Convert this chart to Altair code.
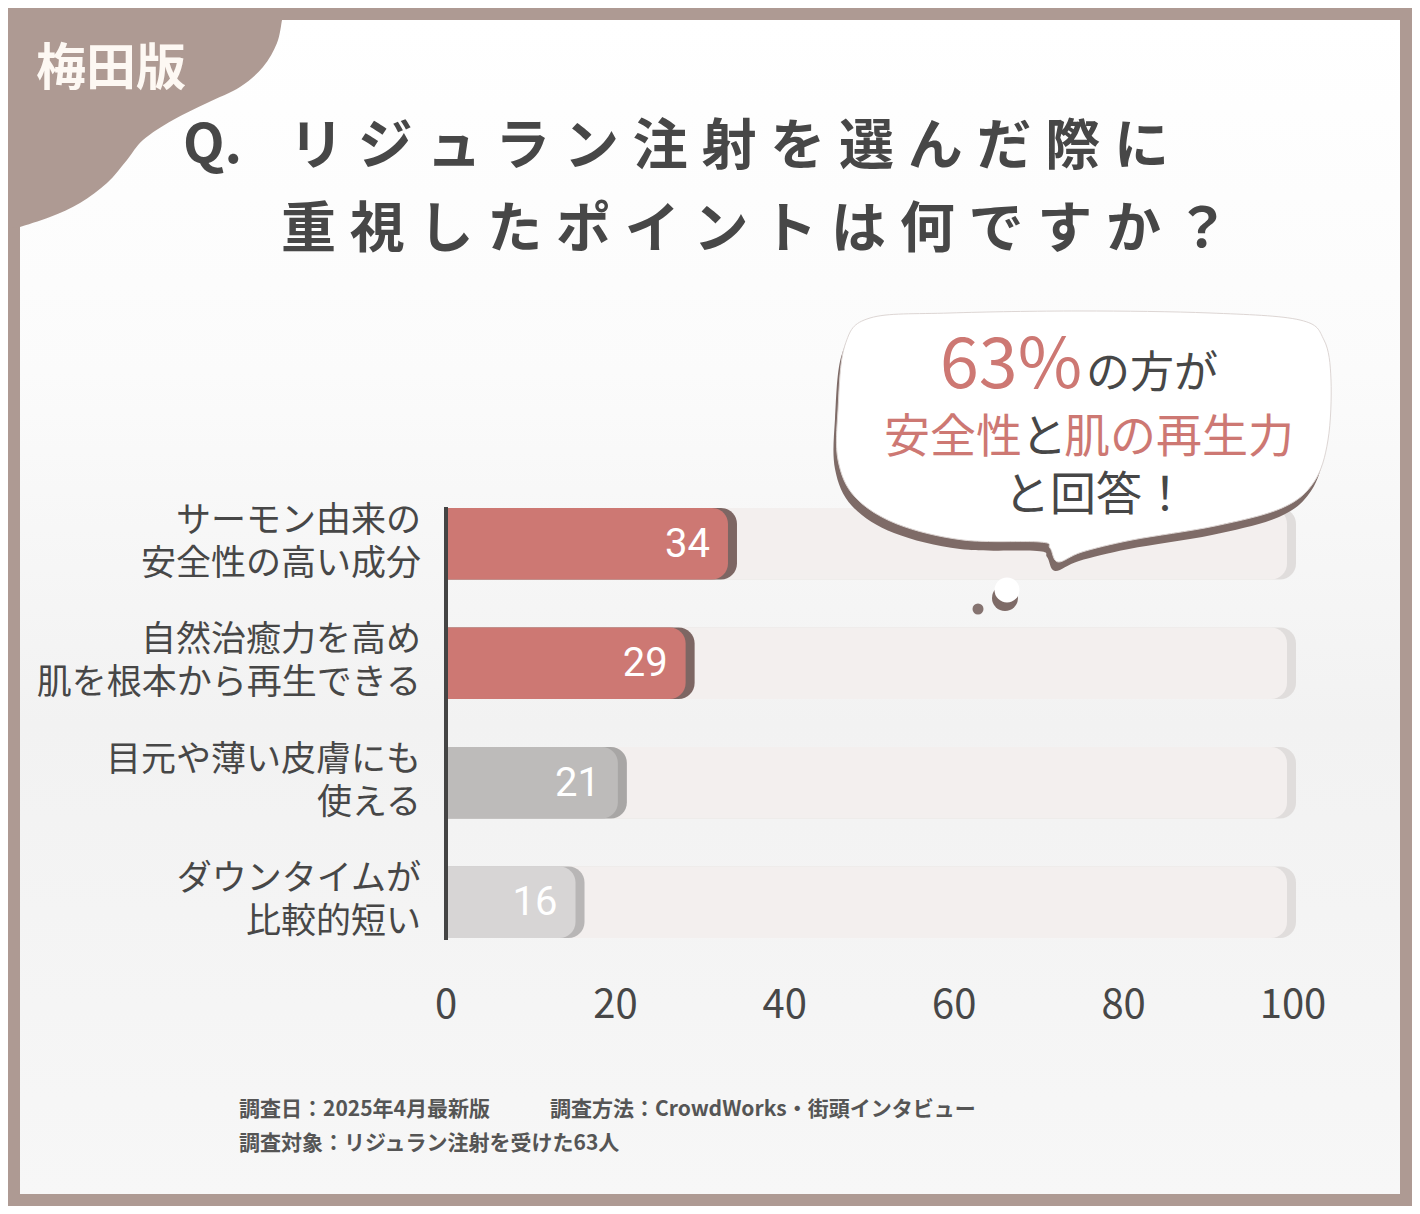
import altair as alt
import pandas as pd

# ---------------- data ----------------
categories = [
    "サーモン由来の\n安全性の高い成分",
    "自然治癒力を高め\n肌を根本から再生できる",
    "目元や薄い皮膚にも\n使える",
    "ダウンタイムが\n比較的短い",
]
values = [34, 29, 21, 16]
full_scale = [100, 100, 100, 100]
ticks = [0, 20, 40, 60, 80, 100]
badge = "梅田版"
title_line1 = ["Q.", "リジュラン注射を選んだ際に"]
title_line2 = "重視したポイントは何ですか？"
bubble_line1 = ["63%", "の方が"]
bubble_line2 = ["安全性", "と", "肌の再生力"]
bubble_line3 = "と回答！"
footer = [
    "調査日：2025年4月最新版",
    "調査方法：CrowdWorks・街頭インタビュー",
    "調査対象：リジュラン注射を受けた63人",
]

# ---------------- styles ----------------
FONT = "Noto Sans CJK JP"
DARK = "#474747"
RED = "#cd7873"
BROWN = "#ae9a93"
bar_fill = ["#cd7873", "#cd7873", "#bdbbba", "#d7d5d5"]
bar_shadow = ["#7d6663", "#7d6663", "#a8a6a5", "#b8b6b6"]

OFF = 8  # page margin: reference px -> chart px


def catmull(points, closed=False):
    pts = list(points)
    n = len(pts)
    segs = []
    rng = range(n) if closed else range(n - 1)
    for i in rng:
        p0 = pts[(i - 1) % n] if (closed or i > 0) else pts[i]
        p1 = pts[i % n]
        p2 = pts[(i + 1) % n]
        p3 = pts[(i + 2) % n] if (closed or i + 2 < n) else p2
        c1 = (p1[0] + (p2[0] - p0[0]) / 6, p1[1] + (p2[1] - p0[1]) / 6)
        c2 = (p2[0] - (p3[0] - p1[0]) / 6, p2[1] - (p3[1] - p1[1]) / 6)
        segs.append(("C", [c1, c2, p2]))
    return segs


def to_symbol(cmds, cx, cy, H):
    out = []
    for letter, pts in cmds:
        coords = " ".join(f"{(x - cx) / H:.4f},{(y - cy) / H:.4f}" for x, y in pts)
        out.append(f"{letter}{coords}")
    return " ".join(out) + " Z"


# blob in top-left corner (reference px)
blob_edge = [(282, 20), (277, 43), (263, 67), (240, 87), (207, 103), (173, 120),
             (143, 140), (127, 160), (107, 183), (80, 203), (50, 217), (20, 227)]
blob_cmds = [("M", [(0, 0)]), ("L", [(282, 0)]), ("L", [(282, 20)])]
blob_cmds += catmull(blob_edge)
blob_cmds += [("L", [(0, 229)])]
BCX, BCY, BH = 150, 120, 170
blob_path = to_symbol(blob_cmds, BCX, BCY, BH)

# speech bubble (reference px)
bubble_pts = [(870, 318), (950, 313), (1080, 311), (1210, 313), (1300, 320), (1324, 340),
              (1331, 380), (1328, 440), (1314, 482), (1282, 508), (1215, 526), (1132, 540),
              (1082, 552), (1058, 562), (1050, 548), (1040, 542), (963, 540), (897, 524),
              (855, 497), (838, 460), (838, 410), (845, 345)]
bub_cmds = [("M", [bubble_pts[0]])] + catmull(bubble_pts, closed=True)
UCX, UCY, UH = 1085, 440, 260
bubble_path = to_symbol(bub_cmds, UCX, UCY, UH)

one = pd.DataFrame({"k": [0]})
df = pd.DataFrame({"cat": categories, "value": values, "full": full_scale})
tick_df = pd.DataFrame({"tick": ticks})

xscale = alt.Scale(domain=[0, 100], range=[438, 1285])
yscale = alt.Scale(domain=categories, range=[476, 954], paddingInner=0.4, paddingOuter=0.2)
y_enc = alt.Y("cat:N", scale=yscale, axis=None, sort=categories)

# ---------------- layers ----------------
panel = alt.Chart(one).mark_rect(
    opacity=1,
    color=alt.LinearGradient(
        gradient="linear", x1=0, x2=0, y1=0, y2=1,
        stops=[alt.GradientStop(color="#ffffff", offset=0),
               alt.GradientStop(color="#fbfbfb", offset=0.3),
               alt.GradientStop(color="#f2f2f2", offset=0.6),
               alt.GradientStop(color="#f7f7f7", offset=1)],
    ),
).encode(x=alt.value(20 - OFF), x2=alt.value(1400 - OFF),
         y=alt.value(20 - OFF), y2=alt.value(1194 - OFF))

blob = alt.Chart(one).mark_point(
    shape=blob_path, filled=True, fill=BROWN, strokeWidth=0, opacity=1, size=(2 * BH) ** 2
).encode(x=alt.value(BCX - OFF), y=alt.value(BCY - OFF))

badge_t = alt.Chart(one).mark_text(
    text=badge, font=FONT, fontSize=50, fontWeight="bold", color="#fdf8f3",
    align="left", baseline="middle"
).encode(x=alt.value(36 - OFF), y=alt.value(70 - OFF))

t1a = alt.Chart(one).mark_text(
    text=title_line1[0], font=FONT, fontSize=54, fontWeight="bold", color=DARK,
    align="left", baseline="middle"
).encode(x=alt.value(183 - OFF), y=alt.value(147 - OFF))
t1b = alt.Chart(one).mark_text(
    text="\u2005".join(title_line1[1]), font=FONT, fontSize=55, fontWeight="bold",
    color=DARK, align="left", baseline="middle"
).encode(x=alt.value(289 - OFF), y=alt.value(147 - OFF))
t2 = alt.Chart(one).mark_text(
    text="\u2005".join(title_line2), font=FONT, fontSize=55, fontWeight="bold", color=DARK,
    align="left", baseline="middle"
).encode(x=alt.value(281 - OFF), y=alt.value(230 - OFF))

x_full = alt.X("full:Q", scale=xscale, axis=None)
x_val = alt.X("value:Q", scale=xscale, axis=None)
CR = dict(cornerRadiusTopRight=16, cornerRadiusBottomRight=16)

bg_shadow = alt.Chart(df).mark_bar(
    color="#e0dddc", opacity=1, xOffset=3, **CR
).encode(x=x_full, x2=alt.datum(0), y=y_enc)
bg_bar = alt.Chart(df).mark_bar(
    color="#f3efee", opacity=1, xOffset=-6, **CR
).encode(x=x_full, x2=alt.datum(0), y=y_enc)

sh_bar = alt.Chart(df).mark_bar(
    opacity=1, xOffset=3, **CR
).encode(x=x_val, x2=alt.datum(0), y=y_enc,
         color=alt.Color("cat:N", scale=alt.Scale(domain=categories, range=bar_shadow), legend=None))
main_bar = alt.Chart(df).mark_bar(
    opacity=1, xOffset=-6, **CR
).encode(x=x_val, x2=alt.datum(0), y=y_enc,
         fill=alt.Fill("cat:N", scale=alt.Scale(domain=categories, range=bar_fill), legend=None))

val_text = alt.Chart(df).mark_text(
    font="Roboto", fontSize=40, color="#ffffff", align="right", baseline="middle", dx=-24, dy=1
).encode(x=x_val, y=y_enc, text="value:Q")

axis_line = alt.Chart(one).mark_rule(color="#444444", strokeWidth=4, opacity=1).encode(
    x=alt.X("k:Q", scale=xscale, axis=None), y=alt.value(507 - OFF), y2=alt.value(940 - OFF))

cat_text = alt.Chart(df).mark_text(
    font=FONT, fontSize=35, lineHeight=43, lineBreak="\n", color=DARK,
    align="right", baseline="middle", dy=-23
).encode(x=alt.value(421 - OFF), y=y_enc, text="cat:N")

tick_text = alt.Chart(tick_df).mark_text(
    font=FONT, fontSize=40, fontWeight=400, color=DARK, align="center", baseline="middle"
).encode(x=alt.X("tick:Q", scale=xscale, axis=None), y=alt.value(1006 - OFF), text="tick:Q")

bub_shadow = alt.Chart(one).mark_point(
    shape=bubble_path, filled=True, fill="#7e6b67", strokeWidth=0, opacity=1, size=(2 * UH) ** 2
).encode(x=alt.value(UCX - OFF - 3), y=alt.value(UCY - OFF + 9))
bubble = alt.Chart(one).mark_point(
    shape=bubble_path, filled=True, fill="#ffffff", stroke="#ddd6d4", strokeWidth=1, opacity=1,
    size=(2 * UH) ** 2
).encode(x=alt.value(UCX - OFF), y=alt.value(UCY - OFF))

dot_big_sh = alt.Chart(one).mark_point(
    shape="circle", filled=True, fill="#7e6b67", strokeWidth=0, opacity=1, size=26 ** 2
).encode(x=alt.value(1005 - OFF), y=alt.value(598 - OFF))
dot_big = alt.Chart(one).mark_point(
    shape="circle", filled=True, fill="#ffffff", strokeWidth=0, opacity=1, size=25 ** 2
).encode(x=alt.value(1007 - OFF), y=alt.value(590 - OFF))
dot_small = alt.Chart(one).mark_point(
    shape="circle", filled=True, fill="#857370", strokeWidth=0, opacity=1, size=11 ** 2
).encode(x=alt.value(978 - OFF), y=alt.value(609 - OFF))


def txt(s, x, y, size, color, align="left", baseline="middle", weight="normal"):
    return alt.Chart(one).mark_text(
        text=s, font=FONT, fontSize=size, color=color, align=align, baseline=baseline,
        fontWeight=weight
    ).encode(x=alt.value(x - OFF), y=alt.value(y - OFF))


b1a = txt(bubble_line1[0], 940, 388, 70, RED, baseline="alphabetic")
b1b = txt(bubble_line1[1], 1086, 388, 44, DARK, baseline="alphabetic")
b2a = txt(bubble_line2[0], 884, 438, 46, RED)
b2b = txt(bubble_line2[1], 1021, 438, 46, DARK)
b2c = txt(bubble_line2[2], 1064, 438, 46, RED)
b3 = txt(bubble_line3, 1004, 496, 46, DARK)

f1 = txt(footer[0], 239, 1110, 21, "#555555", weight="bold")
f2 = txt(footer[1], 550, 1110, 21, "#555555", weight="bold")
f3 = txt(footer[2], 239, 1144, 21, "#555555", weight="bold")

chart = alt.layer(
    panel, blob, badge_t, t1a, t1b, t2,
    bg_shadow, bg_bar, sh_bar, main_bar, val_text, axis_line, cat_text, tick_text,
    bub_shadow, bubble, dot_big_sh, dot_big, dot_small,
    b1a, b1b, b2a, b2b, b2c, b3, f1, f2, f3,
).resolve_scale(color="independent", fill="independent").properties(
    width=1404, height=1198, autosize=alt.AutoSizeParams(type="none"), padding=0,
    background=BROWN,
).configure_view(stroke=None)

chart.save("out.html", embed_options={"renderer": "svg", "actions": False})
